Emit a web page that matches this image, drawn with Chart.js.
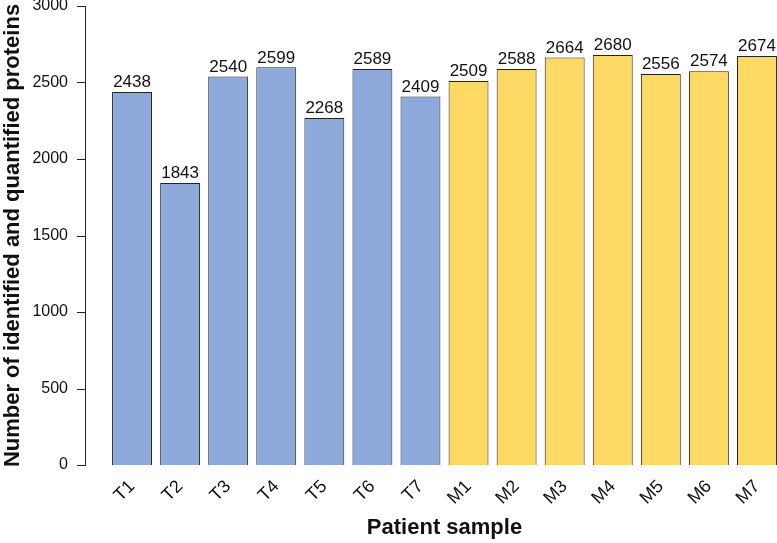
<!DOCTYPE html>
<html>
<head>
<meta charset="utf-8">
<script src="https://cdn.jsdelivr.net/npm/chart.js@4"></script>
<style>
  html, body { margin: 0; padding: 0; background: #fff; overflow: hidden; }
  #wrap { width: 790px; height: 543px; }
</style>
</head>
<body>
<div id="wrap"><canvas id="proteinChart"></canvas></div>
<script>
const samples = ["T1", "T2", "T3", "T4", "T5", "T6", "T7", "M1", "M2", "M3", "M4", "M5", "M6", "M7"];
const proteinCounts = [2438, 1843, 2540, 2599, 2268, 2589, 2409, 2509, 2588, 2664, 2680, 2556, 2574, 2674];
const groupColors = ["#8eaadb", "#8eaadb", "#8eaadb", "#8eaadb", "#8eaadb", "#8eaadb", "#8eaadb",
  "#ffd966", "#ffd966", "#ffd966", "#ffd966", "#ffd966", "#ffd966", "#ffd966"];
const yTicks = [0, 500, 1000, 1500, 2000, 2500, 3000];

const font = "'Liberation Sans', Arial, sans-serif";

// value labels above each bar
const barValues = {
  id: "barValues",
  afterDatasetsDraw(chart) {
    const ctx = chart.ctx;
    const meta = chart.getDatasetMeta(0);
    ctx.save();
    ctx.font = "17px " + font;
    ctx.fillStyle = "#111";
    ctx.textAlign = "center";
    ctx.textBaseline = "bottom";
    meta.data.forEach((bar, i) => {
      ctx.fillText(proteinCounts[i], bar.x, bar.y - 1);
    });
    ctx.restore();
  }
};

// y axis line sits away from the first bar
const yAxisLine = {
  id: "yAxisLine",
  afterDraw(chart) {
    const ctx = chart.ctx;
    const y = chart.scales.y;
    const x0 = chart.chartArea.left - 23;
    ctx.save();
    ctx.strokeStyle = "#222";
    ctx.lineWidth = 1;
    ctx.beginPath();
    ctx.moveTo(x0 + 0.5, y.getPixelForValue(3000));
    ctx.lineTo(x0 + 0.5, y.getPixelForValue(0));
    yTicks.forEach(v => {
      const py = Math.round(y.getPixelForValue(v)) + 0.5;
      ctx.moveTo(x0 - 8, py);
      ctx.lineTo(x0 + 1, py);
    });
    ctx.stroke();
    ctx.restore();
  }
};

const ctx = document.getElementById("proteinChart").getContext("2d");
const proteinChart = new Chart(ctx, {
  type: "bar",
  data: {
    labels: samples,
    datasets: [{
      data: proteinCounts,
      backgroundColor: groupColors,
      borderColor: "#222",
      borderWidth: 1,
      barPercentage: 0.83,
      categoryPercentage: 1
    }]
  },
  options: {
    responsive: true,
    maintainAspectRatio: false,
    animation: false,
    layout: { padding: { top: 6, right: 9, left: 0, bottom: 0 } },
    plugins: {
      legend: { display: false },
      tooltip: { enabled: false }
    },
    scales: {
      x: {
        grid: { display: false },
        border: { display: false },
        ticks: {
          color: "#111",
          font: { family: font, size: 18 },
          minRotation: 45,
          maxRotation: 45,
          padding: 3
        },
        title: {
          display: true,
          text: "Patient sample",
          color: "#111",
          font: { family: font, size: 22, weight: "bold" },
          padding: { top: 0, bottom: 2 }
        },
        afterFit(scale) {
          scale.height = 78;
          scale.paddingLeft = 0;
          scale.paddingRight = 0;
        }
      },
      y: {
        min: 0,
        max: 3000,
        afterBuildTicks(scale) {
          scale.ticks = yTicks.map(v => ({ value: v }));
        },
        grid: { display: false },
        border: { display: false },
        ticks: {
          color: "#111",
          font: { family: font, size: 16 },
          padding: 32,
          callback: v => String(v)
        },
        title: {
          display: true,
          text: "Number of identified and quantified proteins",
          color: "#111",
          font: { family: font, size: 22, weight: "bold" },
          padding: { top: 0, bottom: 0 }
        },
        afterFit(scale) {
          scale.width = 108;
          scale.paddingTop = 0;
          scale.paddingBottom = 0;
        }
      }
    }
  },
  plugins: [barValues, yAxisLine]
});
</script>
</body>
</html>
